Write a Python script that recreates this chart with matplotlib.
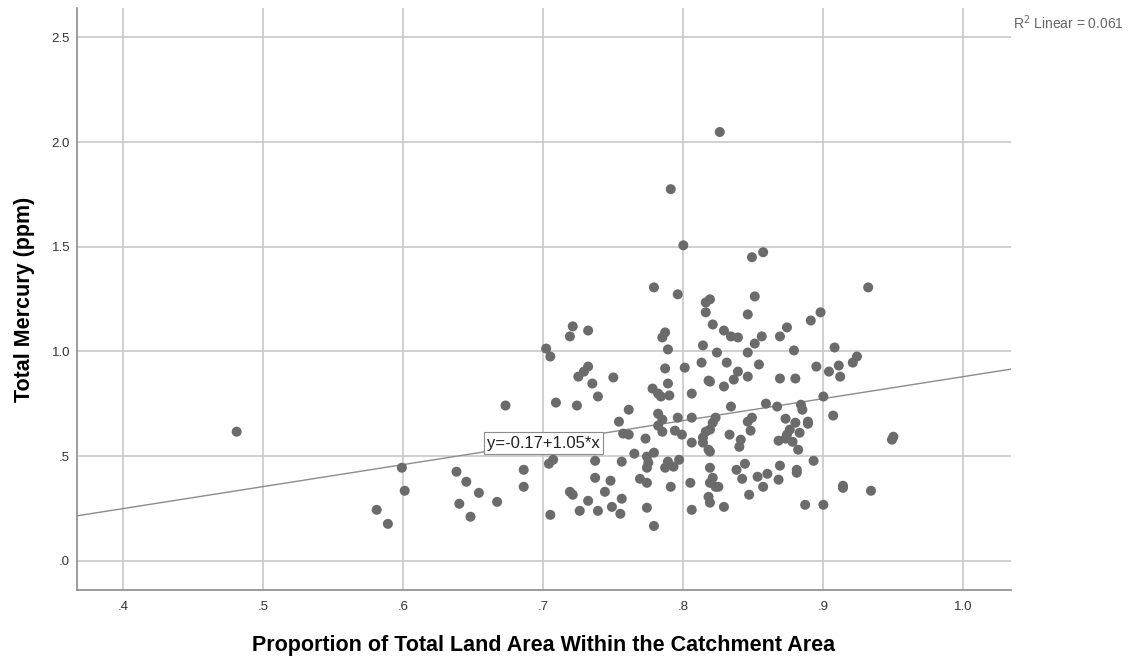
import matplotlib
matplotlib.use("Agg")
import matplotlib.pyplot as plt
import numpy as np

plt.rcParams["font.family"] = ["Liberation Sans", "DejaVu Sans"]

# proportion of land area vs total mercury
land_prop = [
    0.481, 0.581, 0.589, 0.599, 0.601, 0.638, 0.640, 0.645, 0.648, 0.654,
    0.667, 0.673, 0.686, 0.686, 0.702, 0.705, 0.709, 0.704, 0.707, 0.705,
    0.779, 0.796, 0.816, 0.819, 0.816, 0.821, 0.721, 0.719, 0.732, 0.787,
    0.785, 0.789, 0.814, 0.824, 0.732, 0.729, 0.725, 0.750, 0.735, 0.787,
    0.801, 0.813, 0.789, 0.819, 0.818, 0.739, 0.724, 0.778, 0.782, 0.784,
    0.790, 0.806, 0.761, 0.754, 0.782, 0.785, 0.782, 0.796, 0.806, 0.823,
    0.821, 0.757, 0.761, 0.773, 0.785, 0.794, 0.799, 0.806, 0.816, 0.814,
    0.814, 0.819, 0.765, 0.774, 0.779, 0.775, 0.774, 0.737, 0.756, 0.789,
    0.787, 0.793, 0.797, 0.819, 0.821, 0.819, 0.823, 0.737, 0.748, 0.769,
    0.774, 0.791, 0.805, 0.719, 0.721, 0.744, 0.732, 0.756, 0.749, 0.755,
    0.726, 0.739, 0.774, 0.806, 0.818, 0.819, 0.779,
    0.849, 0.857, 0.851, 0.932, 0.846, 0.898, 0.891, 0.829, 0.834, 0.839,
    0.856, 0.851, 0.869, 0.874, 0.846, 0.879, 0.908, 0.831, 0.854, 0.895,
    0.904, 0.911, 0.921, 0.924, 0.912, 0.839, 0.836, 0.846, 0.829, 0.869,
    0.880, 0.900, 0.834, 0.859, 0.867, 0.884, 0.885, 0.907, 0.846, 0.849,
    0.848, 0.873, 0.880, 0.876, 0.874, 0.889, 0.889, 0.883, 0.833, 0.819,
    0.841, 0.840, 0.868, 0.873, 0.878, 0.818, 0.882, 0.893, 0.838, 0.842,
    0.844, 0.853, 0.860, 0.869, 0.868, 0.881, 0.881, 0.857, 0.847, 0.825,
    0.829, 0.887, 0.900, 0.914, 0.914, 0.934, 0.950, 0.949, 0.826, 0.791,
    0.800,
]
mercury = [
    0.617, 0.244, 0.177, 0.445, 0.335, 0.426, 0.273, 0.378, 0.211, 0.325,
    0.282, 0.742, 0.435, 0.354, 1.014, 0.976, 0.756, 0.464, 0.483, 0.220,
    1.306, 1.273, 1.234, 1.249, 1.187, 1.129, 1.120, 1.072, 1.100, 1.091,
    1.067, 1.010, 1.029, 0.995, 0.928, 0.904, 0.880, 0.876, 0.847, 0.919,
    0.923, 0.947, 0.847, 0.856, 0.861, 0.785, 0.742, 0.823, 0.799, 0.785,
    0.790, 0.799, 0.722, 0.665, 0.703, 0.675, 0.646, 0.684, 0.684, 0.684,
    0.660, 0.608, 0.603, 0.584, 0.617, 0.622, 0.603, 0.565, 0.617, 0.589,
    0.565, 0.522, 0.512, 0.498, 0.517, 0.469, 0.445, 0.478, 0.474, 0.474,
    0.445, 0.450, 0.483, 0.445, 0.397, 0.373, 0.354, 0.397, 0.383, 0.392,
    0.373, 0.354, 0.373, 0.330, 0.316, 0.330, 0.287, 0.297, 0.258, 0.225,
    0.239, 0.239, 0.254, 0.244, 0.306, 0.278, 0.167,
    1.450, 1.474, 1.263, 1.306, 1.177, 1.187, 1.148, 1.100, 1.072, 1.067,
    1.072, 1.038, 1.072, 1.115, 0.995, 1.005, 1.019, 0.947, 0.938, 0.928,
    0.904, 0.933, 0.947, 0.976, 0.880, 0.904, 0.866, 0.880, 0.833, 0.871,
    0.871, 0.785, 0.737, 0.751, 0.737, 0.746, 0.722, 0.694, 0.665, 0.684,
    0.622, 0.679, 0.660, 0.627, 0.603, 0.665, 0.655, 0.612, 0.603, 0.627,
    0.579, 0.545, 0.574, 0.584, 0.569, 0.531, 0.531, 0.478, 0.435, 0.392,
    0.464, 0.402, 0.416, 0.455, 0.388, 0.435, 0.421, 0.354, 0.316, 0.354,
    0.258, 0.268, 0.268, 0.359, 0.349, 0.335, 0.593, 0.579, 2.048, 1.775,
    1.507,
]

intercept = -0.17
slope = 1.05
r_squared = 0.061

x_ticks = [0.4, 0.5, 0.6, 0.7, 0.8, 0.9, 1.0]
x_labels = [".4", ".5", ".6", ".7", ".8", ".9", "1.0"]
y_ticks = [0.0, 0.5, 1.0, 1.5, 2.0, 2.5]
y_labels = [".0", ".5", "1.0", "1.5", "2.0", "2.5"]

fig = plt.figure(figsize=(11.38, 6.58), dpi=100)
ax = fig.add_axes([0.0677, 0.1033, 0.8207, 0.8845])

xlim = (0.367, 1.034)
ax.set_xlim(*xlim)
ax.set_ylim(-0.139, 2.64)

ax.grid(True, color="#c8c8c8", linewidth=1.2)
ax.set_axisbelow(True)

ax.scatter(land_prop, mercury, s=52, color="#6b6b6b", edgecolors="none", zorder=3)

xs = np.array(xlim)
ax.plot(xs, intercept + slope * xs, color="#8c8c8c", linewidth=1.0, zorder=2)

ax.text(0.70, 0.562, f"y={intercept:.2f}+{slope:.2f}*x", ha="center", va="center",
        fontsize=12, color="#222222", zorder=4,
        bbox=dict(boxstyle="square,pad=0.2", facecolor="white", edgecolor="#8c8c8c", linewidth=0.8))

ax.set_xticks(x_ticks)
ax.set_xticklabels(x_labels)
ax.set_yticks(y_ticks)
ax.set_yticklabels(y_labels)
ax.tick_params(length=0, labelsize=9.5, colors="#333333")
ax.tick_params(axis="x", pad=8)
ax.tick_params(axis="y", pad=5)

for side in ["top", "right"]:
    ax.spines[side].set_visible(False)
for side in ["left", "bottom"]:
    ax.spines[side].set_color("#8c8c8c")
    ax.spines[side].set_linewidth(1.2)

ax.set_xlabel("Proportion of Total Land Area Within the Catchment Area",
              fontsize=15.5, fontweight="bold", labelpad=16)
ax.set_ylabel("Total Mercury (ppm)", fontsize=15.5, fontweight="bold", labelpad=12)

fig.text(0.8902, 0.966, f"R$^2$ Linear = {r_squared:.3f}", fontsize=10, color="#666666",
         ha="left", va="center")

fig.savefig("out.png", dpi=100)
